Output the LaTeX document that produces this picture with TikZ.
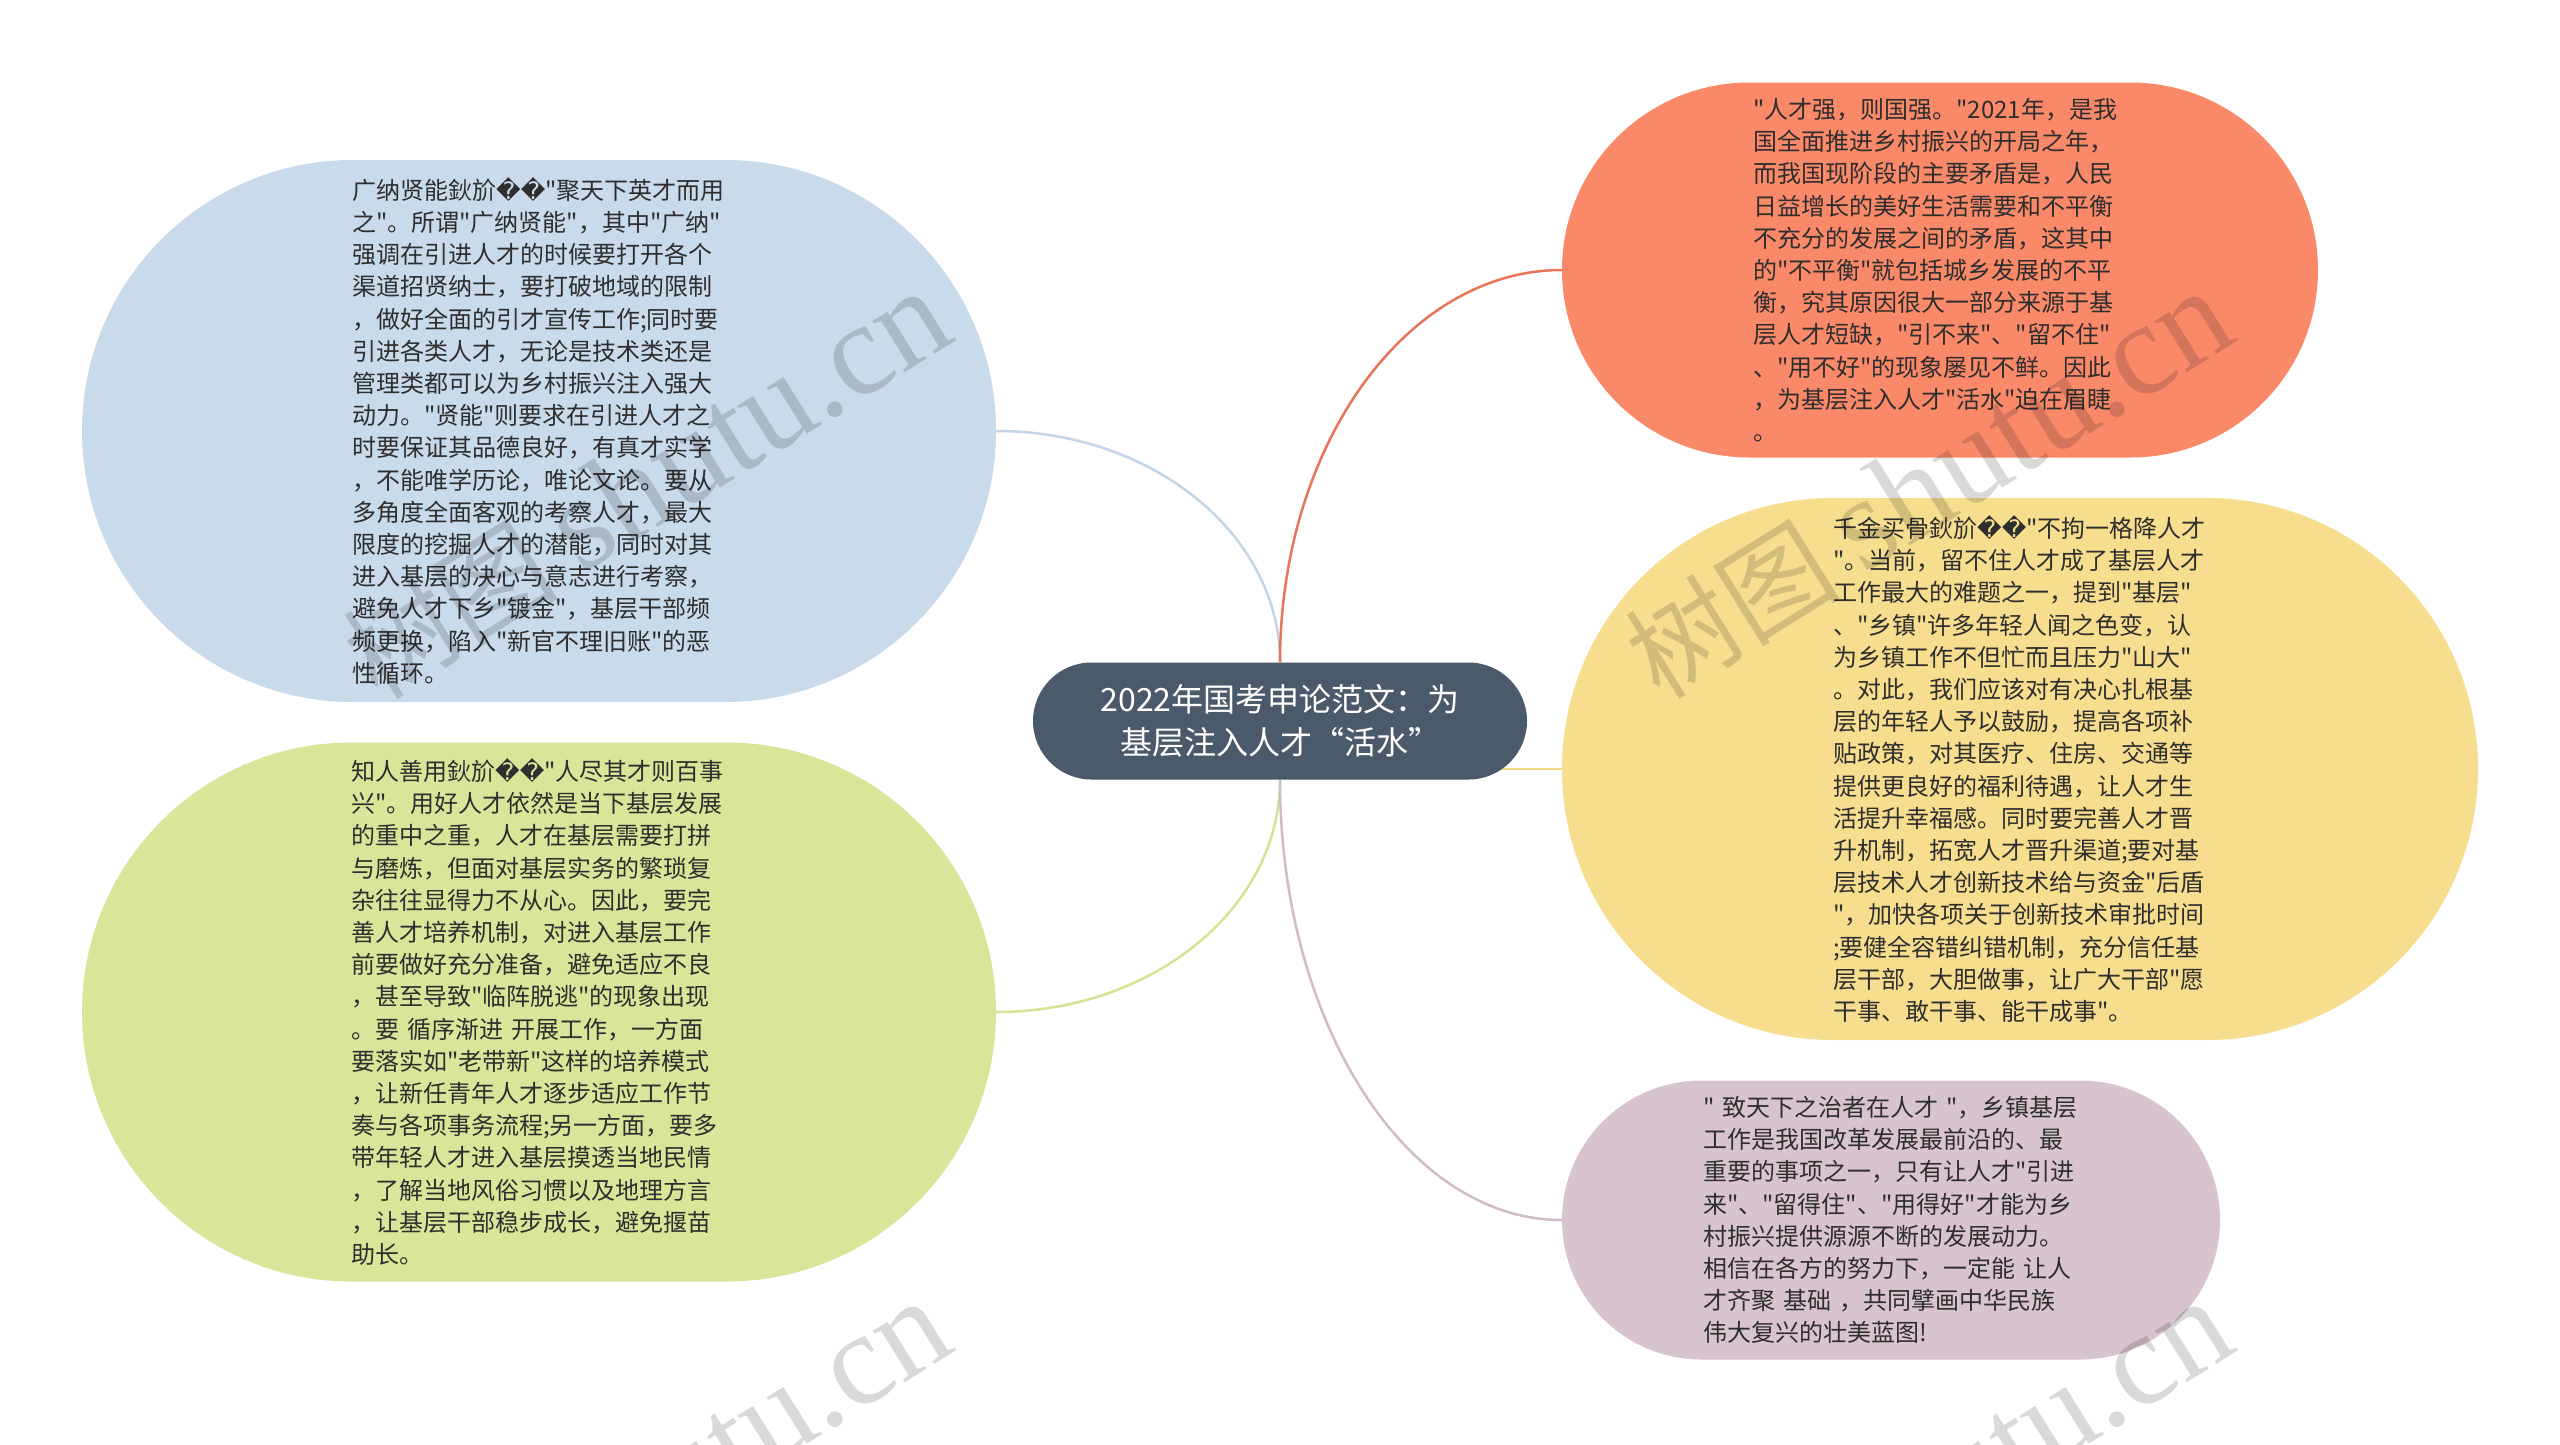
\documentclass[tikz,border=0pt]{standalone}
\usepackage{fontspec}
\newfontfamily\cjkfont{Noto Sans CJK SC}
\newfontfamily\dejavufont{DejaVu Sans}
\newfontfamily\wmlatin{Liberation Serif}
\usetikzlibrary{shapes.misc,calc,backgrounds}
\definecolor{hub}{HTML}{4B5A6A}
\definecolor{fblue}{HTML}{C9DAEA}
\definecolor{fgreen}{HTML}{D8E69A}
\definecolor{forange}{HTML}{FA896A}
\definecolor{fyellow}{HTML}{F7DE8F}
\definecolor{fpink}{HTML}{D8C4CF}
\definecolor{lblue}{HTML}{C3D5E6}
\definecolor{lgreen}{HTML}{D3E495}
\definecolor{lorange}{HTML}{E8755A}
\definecolor{lyellow}{HTML}{F4D888}
\definecolor{lpink}{HTML}{D0BCC8}
\definecolor{txt}{HTML}{2E2E2E}
\newcommand\badpair{{\dejavufont\symbol{"FFFD}\symbol{"FFFD}}}
\tikzset{
  topic/.style={rounded rectangle, inner sep=0pt, draw=none},
  body/.style={anchor=west, inner sep=0pt, text width=400pt, align=left, text=txt,
    font=\cjkfont\fontsize{24}{32.2}\selectfont},
  link/.style={line width=2.5pt},
  wm/.style={rotate=32, anchor=base west, text=black, text opacity=0.15, inner sep=0pt,
    font=\cjkfont\fontsize{108}{110}\selectfont},
}
\newcommand\wmtext{树图 {\wmlatin\fontsize{132}{134}\selectfont shutu.cn}}
\begin{document}
\begin{tikzpicture}[x=1pt,y=-1pt]
\useasboundingbox (0,0) rectangle (2560,1444);

% central topic
\node[topic, fill=hub, minimum width=494pt, minimum height=117pt, text=white, align=center,
  font=\cjkfont\fontsize{32}{43}\selectfont] (c) at (1280,721) {2022年国考申论范文：为\\基层注入人才“活水”};

% branch shapes
\node[topic, fill=fblue, minimum width=914pt, minimum height=542pt] (b) at (539,431) {};
\node[topic, fill=fgreen, minimum width=914pt, minimum height=539pt] (g) at (539,1012) {};
\node[topic, fill=forange, minimum width=756pt, minimum height=375pt] (o) at (1940,270) {};
\node[topic, fill=fyellow, minimum width=916pt, minimum height=542pt] (y) at (2020,769) {};
\node[topic, fill=fpink, minimum width=658pt, minimum height=279pt] (p) at (1891,1220) {};

% branch texts
\node[body] (bt) at (352,431) {广纳贤能鈥斺\badpair"聚天下英才而用\\
之"。所谓"广纳贤能"，其中"广纳"\\
强调在引进人才的时候要打开各个\\
渠道招贤纳士，要打破地域的限制\\
，做好全面的引才宣传工作;同时要\\
引进各类人才，无论是技术类还是\\
管理类都可以为乡村振兴注入强大\\
动力。"贤能"则要求在引进人才之\\
时要保证其品德良好，有真才实学\\
，不能唯学历论，唯论文论。要从\\
多角度全面客观的考察人才，最大\\
限度的挖掘人才的潜能，同时对其\\
进入基层的决心与意志进行考察，\\
避免人才下乡"镀金"，基层干部频\\
频更换，陷入"新官不理旧账"的恶\\
性循环。};

\node[body] (gt) at (351,1012) {知人善用鈥斺\badpair"人尽其才则百事\\
兴"。用好人才依然是当下基层发展\\
的重中之重，人才在基层需要打拼\\
与磨炼，但面对基层实务的繁琐复\\
杂往往显得力不从心。因此，要完\\
善人才培养机制，对进入基层工作\\
前要做好充分准备，避免适应不良\\
，甚至导致"临阵脱逃"的现象出现\\
。要 循序渐进 开展工作，一方面\\
要落实如"老带新"这样的培养模式\\
，让新任青年人才逐步适应工作节\\
奏与各项事务流程;另一方面，要多\\
带年轻人才进入基层摸透当地民情\\
，了解当地风俗习惯以及地理方言\\
，让基层干部稳步成长，避免揠苗\\
助长。};

\node[body] (ot) at (1753,270) {"人才强，则国强。"2021年，是我\\
国全面推进乡村振兴的开局之年，\\
而我国现阶段的主要矛盾是，人民\\
日益增长的美好生活需要和不平衡\\
不充分的发展之间的矛盾，这其中\\
的"不平衡"就包括城乡发展的不平\\
衡，究其原因很大一部分来源于基\\
层人才短缺，"引不来"、"留不住"\\
、"用不好"的现象屡见不鲜。因此\\
，为基层注入人才"活水"迫在眉睫\\
。};

\node[body] (yt) at (1833,769) {千金买骨鈥斺\badpair"不拘一格降人才\\
"。当前，留不住人才成了基层人才\\
工作最大的难题之一，提到"基层"\\
、"乡镇"许多年轻人闻之色变，认\\
为乡镇工作不但忙而且压力"山大"\\
。对此，我们应该对有决心扎根基\\
层的年轻人予以鼓励，提高各项补\\
贴政策，对其医疗、住房、交通等\\
提供更良好的福利待遇，让人才生\\
活提升幸福感。同时要完善人才晋\\
升机制，拓宽人才晋升渠道;要对基\\
层技术人才创新技术给与资金"后盾\\
"，加快各项关于创新技术审批时间\\
;要健全容错纠错机制，充分信任基\\
层干部，大胆做事，让广大干部"愿\\
干事、敢干事、能干成事"。};

\node[body] (pt) at (1703,1220) {" 致天下之治者在人才 "，乡镇基层\\
工作是我国改革发展最前沿的、最\\
重要的事项之一，只有让人才"引进\\
来"、"留得住"、"用得好"才能为乡\\
村振兴提供源源不断的发展动力。\\
相信在各方的努力下，一定能 让人\\
才齐聚 基础 ，共同擘画中华民族\\
伟大复兴的壮美蓝图!};

% connectors behind the shapes
\begin{pgfonlayer}{background}
\fill[white] (0,0) rectangle (2560,1444);
\draw[link, lblue] (c.north) .. controls ($(c.north)!0.552!(c.north|-b.east)$) and ($(b.east)!0.552!(c.north|-b.east)$) .. (b.east);
\draw[link, lorange] (c.north) .. controls ($(c.north)!0.552!(c.north|-o.west)$) and ($(o.west)!0.552!(c.north|-o.west)$) .. (o.west);
\draw[link, lgreen] (c.south) .. controls ($(c.south)!0.552!(c.south|-g.east)$) and ($(g.east)!0.552!(c.south|-g.east)$) .. (g.east);
\draw[link, lpink] (c.south) .. controls ($(c.south)!0.552!(c.south|-p.west)$) and ($(p.west)!0.552!(c.south|-p.west)$) .. (p.west);
\draw[link, lyellow] (c.center|-y.west) -- (y.west);
\end{pgfonlayer}

% watermarks
\node[wm] (w1) at (378,702) {\wmtext};
\node[wm] (w2) at (1660,702) {\wmtext};
\node[wm] (w3) at (378,1712) {\wmtext};
\node[wm] (w4) at (1660,1712) {\wmtext};
\end{tikzpicture}
\end{document}
